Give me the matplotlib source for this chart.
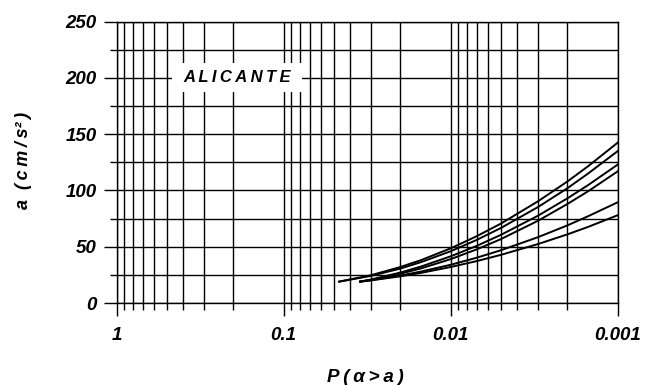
import matplotlib
matplotlib.use("Agg")
import matplotlib.pyplot as plt
from matplotlib.ticker import FixedLocator, FixedFormatter, NullFormatter
from matplotlib.patches import Rectangle

# Exceedance probabilities P(alpha > a) at which the curves are sampled
prob_upper = [0.0465, 0.03, 0.02, 0.015, 0.01, 0.007, 0.005, 0.003, 0.002, 0.0015, 0.001]
prob_lower = [0.0349, 0.03, 0.02, 0.015, 0.01, 0.007, 0.005, 0.003, 0.002, 0.0015, 0.001]

# Peak ground acceleration (cm/s^2) for each hazard curve
accel_1 = [19, 24.7, 32.0, 38.2, 48.6, 59.3, 70.6, 90.4, 108.0, 121.7, 142.5]
accel_2 = [19, 24.1, 30.6, 36.4, 46.0, 56.0, 66.7, 85.3, 102.0, 115.2, 135.0]
accel_3 = [19, 20.9, 27.1, 32.5, 41.5, 50.7, 60.6, 77.6, 93.0, 104.9, 123.0]
accel_4 = [19, 20.6, 26.0, 30.8, 39.0, 47.6, 56.8, 73.1, 88.0, 99.4, 117.0]
accel_5 = [19, 20.3, 24.4, 28.0, 34.0, 40.2, 46.9, 58.5, 69.0, 77.2, 89.5]
accel_6 = [19, 20.1, 23.7, 26.8, 32.0, 37.2, 42.8, 52.4, 61.0, 67.7, 78.0]

x_ticks = [1, 0.1, 0.01, 0.001]
x_tick_labels = ["1", "0.1", "0.01", "0.001"]
y_ticks = [0, 50, 100, 150, 200, 250]
y_tick_labels = ["0", "50", "100", "150", "200", "250"]
y_minor = [25, 75, 125, 175, 225]
site_name = "ALICANTE"

FONT = ["Liberation Sans", "DejaVu Sans"]
THIN = "\u2009"


def spaced(s):
    return THIN.join(s)


fig = plt.figure(figsize=(6.45, 3.85), dpi=100)
ax = fig.add_axes([116.7 / 645, 1 - 303 / 385, 501 / 645, 281.3 / 385])

ax.set_xscale("log")
ax.set_xlim(1, 0.001)
ax.set_ylim(0, 250)

# Log grid: decades plus 2..9 subdivisions
minor_x = [m * 10.0 ** e for e in (-1, -2, -3) for m in range(2, 10)]
ax.xaxis.set_major_locator(FixedLocator(x_ticks))
ax.xaxis.set_major_formatter(FixedFormatter(x_tick_labels))
ax.xaxis.set_minor_locator(FixedLocator(minor_x))
ax.xaxis.set_minor_formatter(NullFormatter())
ax.yaxis.set_major_locator(FixedLocator(y_ticks))
ax.yaxis.set_major_formatter(FixedFormatter(y_tick_labels))
ax.yaxis.set_minor_locator(FixedLocator(y_minor))
ax.yaxis.set_minor_formatter(NullFormatter())

ax.grid(True, which="both", color="black", linewidth=1.0)
ax.set_axisbelow(True)
ax.tick_params(which="major", direction="out", length=9.4, width=1.0, color="black")
ax.tick_params(which="minor", direction="out", length=4.7, width=1.0, color="black")
ax.tick_params(axis="y", which="major", pad=5)
ax.tick_params(axis="x", which="major", pad=8)
for sp in ax.spines.values():
    sp.set_linewidth(1.0)
    sp.set_color("black")

for lab in ax.get_xticklabels() + ax.get_yticklabels():
    lab.set_family(FONT)
    lab.set_fontweight("bold")
    lab.set_fontstyle("italic")
    lab.set_fontsize(13.5)

for probs, acc in [(prob_upper, accel_1), (prob_upper, accel_2),
                   (prob_lower, accel_3), (prob_lower, accel_4),
                   (prob_lower, accel_5), (prob_lower, accel_6)]:
    ax.plot(probs, acc, color="black", linewidth=1.4, zorder=3)

# Site label on a white patch over the grid
ax.add_patch(Rectangle((0.110, 0.750), 0.260, 0.103, transform=ax.transAxes,
                       facecolor="white", edgecolor="none", zorder=4))
ax.text(0.240, 0.802, spaced(site_name), transform=ax.transAxes, ha="center",
        va="center", family=FONT, fontweight="bold", fontstyle="italic",
        fontsize=12, zorder=5)

fig.text(365 / 645, 1 - 377 / 385, spaced("P(\u03b1>a)"), ha="center", va="center",
         family=FONT, fontweight="bold", fontstyle="italic", fontsize=13.5)
fig.text(24 / 645, 1 - 160 / 385, "a  " + spaced("(cm/s") + "\u00b2" + THIN + ")",
         ha="center", va="center", rotation=90, family=FONT, fontweight="bold",
         fontstyle="italic", fontsize=13)

fig.savefig("out.png", dpi=100, facecolor="white")
